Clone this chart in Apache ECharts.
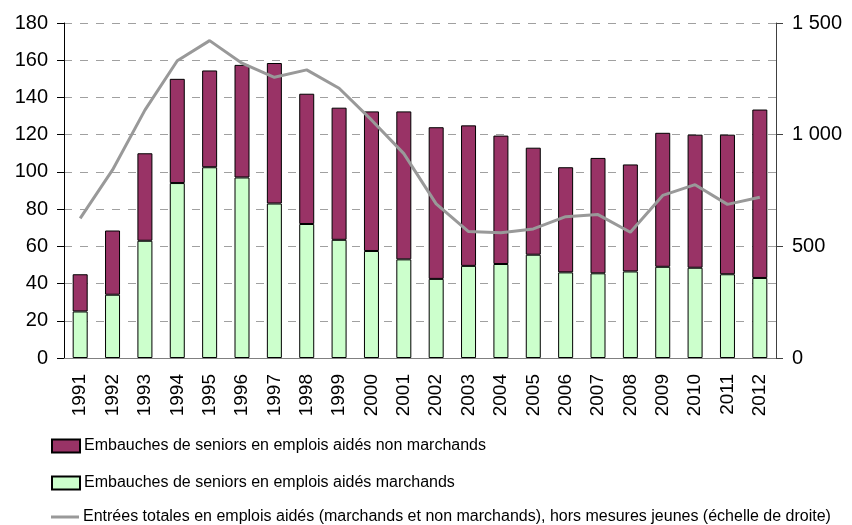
<!DOCTYPE html>
<html>
<head>
<meta charset="utf-8">
<script src="https://cdn.jsdelivr.net/npm/echarts@6/dist/echarts.min.js"></script>
<style>
  html, body { margin: 0; padding: 0; background: #fff; }
  #chart { width: 852px; height: 525px; }
</style>
</head>
<body>
<div id="chart"></div>
<script>
'use strict';

var years = ['1991', '1992', '1993', '1994', '1995', '1996', '1997', '1998', '1999', '2000', '2001',
  '2002', '2003', '2004', '2005', '2006', '2007', '2008', '2009', '2010', '2011', '2012'];

// embauches en emplois aidés marchands (milliers)
var marchands = [25, 34, 63, 94, 102.5, 97, 83, 72, 63.5, 57.5, 53,
  42.5, 49.5, 50.5, 55.5, 46, 45.5, 46.5, 49, 48.5, 45, 43];

// embauches en emplois aidés non marchands (milliers)
var nonMarchands = [20, 34.5, 47, 56, 52, 60.5, 75.5, 70, 71, 75, 79.5,
  81.5, 75.5, 69, 57.5, 56.5, 62, 57.5, 72, 71.5, 75, 90.5];

// entrées totales, échelle de droite
var entrees = [625, 842, 1110, 1331, 1421, 1320, 1257, 1290, 1208, 1066, 915,
  690, 566, 561, 578, 633, 642, 563, 728, 776, 688, 720];

var nomNonMarch = 'Embauches de seniors en emplois aidés non marchands';
var nomMarch = 'Embauches de seniors en emplois aidés marchands';
var nomTotal = 'Entrées totales en emplois aidés (marchands et non marchands), hors mesures jeunes (échelle de droite)';

var police = 'Liberation Sans, Arial, sans-serif';
var legendText = { fontSize: 16, color: '#000', fontFamily: police, padding: [0, 0, 0, -1] };

function legende(nom, top, h) {
  return {
    left: 46,
    top: top,
    itemWidth: 28,
    itemHeight: h,
    icon: 'rect',
    textStyle: legendText,
    data: [nom]
  };
}

var myChart = echarts.init(document.getElementById('chart'));
var option = {
  animation: false,
  textStyle: { fontFamily: police, color: '#000' },
  grid: { left: 64, right: 76, top: 23, bottom: 167 },
  legend: [
    legende(nomNonMarch, 433, 13),
    legende(nomMarch, 470, 13),
    legende(nomTotal, 504, 3)
  ],
  xAxis: [{
    type: 'category',
    data: years,
    axisLine: { lineStyle: { color: '#000', width: 1 } },
    axisTick: { length: 5, lineStyle: { color: '#000' } },
    axisLabel: { rotate: 90, fontSize: 19, color: '#000', margin: 16 }
  }, {
    type: 'category',
    data: years,
    position: 'top',
    axisLine: { lineStyle: { color: '#808080', width: 1 } },
    axisTick: { show: false },
    axisLabel: { show: false }
  }],
  yAxis: [{
    type: 'value',
    min: 0,
    max: 180,
    interval: 20,
    axisLine: { show: true, lineStyle: { color: '#000' } },
    axisTick: { show: true, length: 7, lineStyle: { color: '#000' } },
    axisLabel: { fontSize: 20, color: '#000', margin: 16 },
    splitLine: { lineStyle: { color: '#a0a0a0', type: [8, 8], width: 1 } }
  }, {
    type: 'value',
    min: 0,
    max: 1500,
    interval: 500,
    position: 'right',
    axisLine: { show: true, lineStyle: { color: '#404040' } },
    axisTick: { show: true, length: 7, lineStyle: { color: '#404040' } },
    axisLabel: {
      fontSize: 20, color: '#000', margin: 16,
      formatter: function (v) { return String(v).replace(/\B(?=(\d{3})+(?!\d))/g, ' '); }
    },
    splitLine: { show: false }
  }],
  series: [{
    name: nomMarch,
    type: 'bar',
    stack: 'seniors',
    barWidth: 15,
    data: marchands,
    itemStyle: { color: '#CCFFCC', borderColor: '#000', borderWidth: 1 }
  }, {
    name: nomNonMarch,
    type: 'bar',
    stack: 'seniors',
    barWidth: 15,
    data: nonMarchands,
    itemStyle: { color: '#993366', borderColor: '#000', borderWidth: 1 }
  }, {
    name: nomTotal,
    type: 'line',
    yAxisIndex: 1,
    data: entrees,
    symbol: 'none',
    lineStyle: { color: '#999999', width: 3 },
    itemStyle: { color: '#999999' }
  }]
};
myChart.setOption(option);
</script>
</body>
</html>
